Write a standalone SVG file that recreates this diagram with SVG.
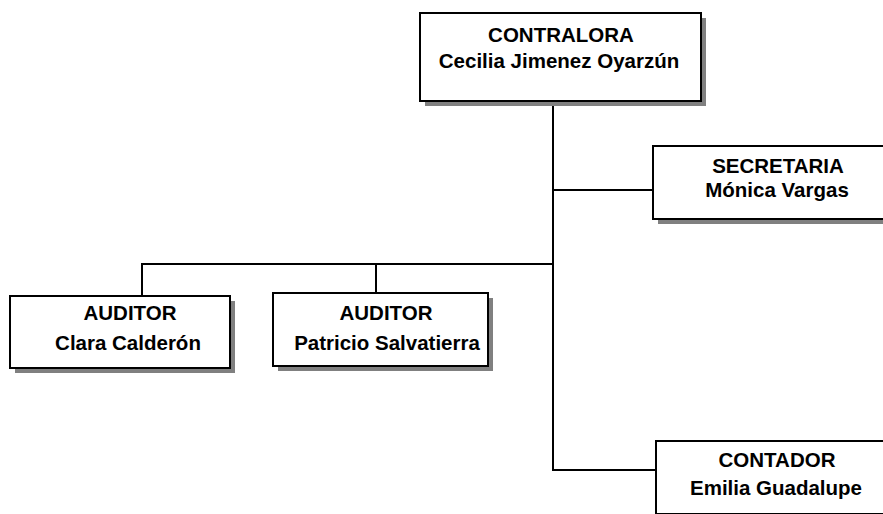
<svg xmlns="http://www.w3.org/2000/svg" width="883" height="514" viewBox="0 0 883 514">
<style>
.sh{fill:#808080;stroke:none}
.bx{fill:#fff;stroke:#000;stroke-width:2}
.t{font-family:"Liberation Sans",Arial,sans-serif;font-weight:bold;font-size:20.5px;fill:#000;text-anchor:middle}
.c{fill:none;stroke:#000;stroke-width:2}
</style>
<rect width="883" height="514" fill="#fff"/>
<g id="connectors">
<path class="c" d="M553,101 V470 H656"/>
<path class="c" d="M553,190 H653"/>
<path class="c" d="M553,264 H142 V296"/>
<path class="c" d="M376,264 V293"/>
</g>
<g id="contralora">
<rect class="sh" x="425" y="18" width="281" height="88"/>
<rect class="bx" x="420" y="13" width="281" height="88"/>
<text class="t" x="561" y="42">CONTRALORA</text>
<text class="t" x="559" y="68">Cecilia Jimenez Oyarzún</text>
</g>
<g id="secretaria">
<rect class="sh" x="658" y="151" width="250" height="73"/>
<rect class="bx" x="653" y="146" width="250" height="73"/>
<text class="t" x="778" y="173">SECRETARIA</text>
<text class="t" x="777" y="197">Mónica Vargas</text>
</g>
<g id="auditor1">
<rect class="sh" x="15" y="301" width="220" height="72"/>
<rect class="bx" x="10" y="296" width="220" height="72"/>
<text class="t" x="130" y="320">AUDITOR</text>
<text class="t" x="128" y="350">Clara Calderón</text>
</g>
<g id="auditor2">
<rect class="sh" x="278" y="298" width="215" height="73"/>
<rect class="bx" x="273" y="293" width="215" height="73"/>
<text class="t" x="386" y="320">AUDITOR</text>
<text class="t" x="387" y="350">Patricio Salvatierra</text>
</g>
<g id="contador">
<rect class="sh" x="661" y="446" width="240" height="73"/>
<rect class="bx" x="656" y="441" width="240" height="73"/>
<text class="t" x="777" y="467">CONTADOR</text>
<text class="t" x="776" y="495">Emilia Guadalupe</text>
</g>
</svg>
